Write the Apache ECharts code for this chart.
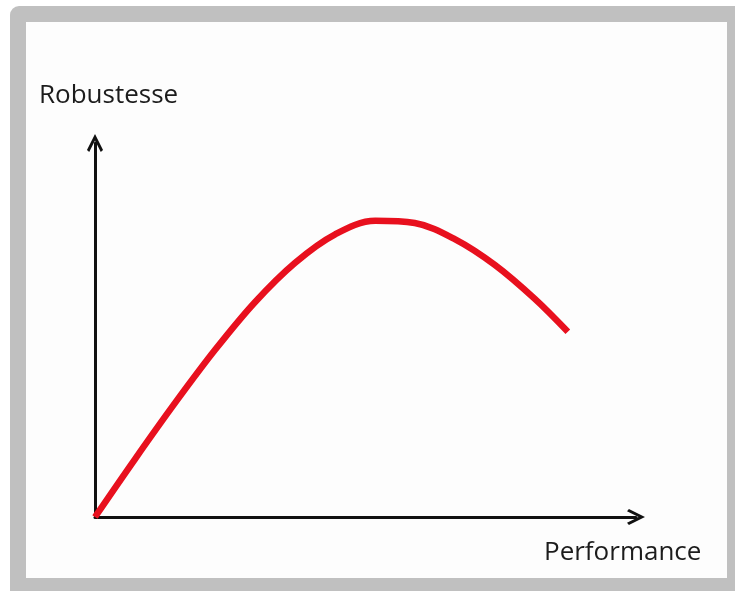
<!DOCTYPE html>
<html>
<head>
<meta charset="utf-8">
<script src="https://cdn.jsdelivr.net/npm/echarts@6/dist/echarts.min.js"></script>
<style>
  html, body { margin: 0; padding: 0; background: #ffffff; }
  #frame {
    position: absolute; left: 10px; top: 6px; width: 740px; height: 600px;
    background: #c0c0c0; border-radius: 9px;
  }
  #inner {
    position: absolute; left: 26px; top: 22px; width: 701px; height: 556px;
    background: #fdfdfd;
  }
  #chart { position: absolute; left: 0; top: 0; width: 735px; height: 591px; }
</style>
</head>
<body>
<div id="frame"></div>
<div id="inner"></div>
<div id="chart"></div>
<script>
// curve: performance (x) vs robustesse (y), both 0..100
const perf = [0, 7.4, 14.8, 22.2, 29.6, 37.0, 44.4, 51.8, 59.1, 66.5, 73.9, 81.3, 87.4]
const robust = [0, 15.5, 30.5, 44.7, 57.5, 68.0, 75.6, 79.2, 78.6, 74.3, 67.4, 58.3, 49.5]
const xName = 'Performance'
const yName = 'Robustesse'

const arrow = 'path://M0,10 L5,0 L10,10 L8.6,11.2 L5,4 L1.4,11.2 Z'

const chart = echarts.init(document.getElementById('chart'))
chart.setOption({
  animation: false,
  grid: { left: 95, right: 99, top: 143, bottom: 74 },
  xAxis: {
    type: 'value', min: 0, max: 100,
    axisLine: { show: true, symbol: ['none', arrow], symbolSize: [22, 18], lineStyle: { color: '#111', width: 3 } },
    axisTick: { show: false }, axisLabel: { show: false }, splitLine: { show: false },
  },
  yAxis: {
    type: 'value', min: 0, max: 100,
    axisLine: { show: true, symbol: ['none', arrow], symbolSize: [22, 18], lineStyle: { color: '#111', width: 3 } },
    axisTick: { show: false }, axisLabel: { show: false }, splitLine: { show: false },
  },
  graphic: [
    { type: 'text', left: 39, top: 83, style: { text: yName, fontFamily: 'Open Sans', fontSize: 26, fill: '#1c1c1c' } },
    { type: 'text', left: 544, top: 540, style: { text: xName, fontFamily: 'Open Sans', fontSize: 26, fill: '#1c1c1c' } },
  ],
  series: [
    {
      type: 'line',
      data: perf.map((p, i) => [p, robust[i]]),
      smooth: 0.35,
      showSymbol: false,
      lineStyle: { color: '#e8101e', width: 6.5, cap: 'butt' },
      z: 5,
    },
  ],
})
</script>
</body>
</html>
